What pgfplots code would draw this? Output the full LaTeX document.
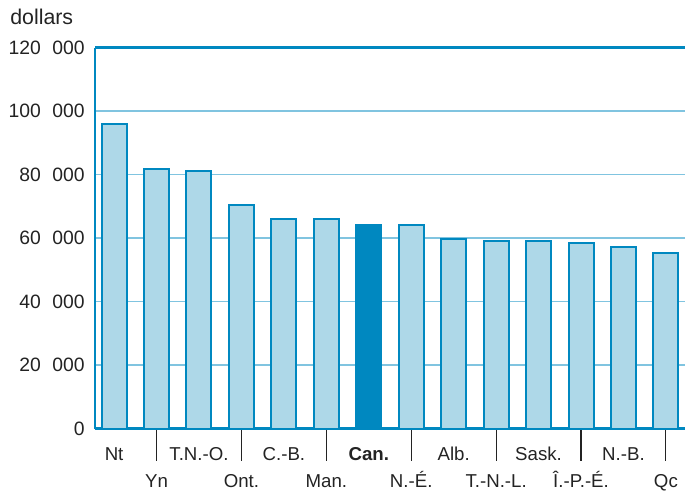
\documentclass[border=0pt]{standalone}
\usepackage{pgfplots}
\pgfplotsset{compat=1.18}
\usepackage{fontspec}
\setmainfont{Liberation Sans}
\definecolor{axisblue}{RGB}{0,136,192}
\definecolor{barfill}{RGB}{174,216,232}
\definecolor{gridblue}{RGB}{128,196,224}
\definecolor{txt}{RGB}{35,35,35}
\newcommand\sep{\hspace{0.6em}}
\begin{document}
\fontsize{14}{16}\selectfont
\begin{tikzpicture}[x=0.75pt,y=0.75pt]
\path[use as bounding box] (0,0) rectangle (685,490);
\begin{axis}[
  at={(95*0.75pt,61.5*0.75pt)}, anchor=south west,
  scale only axis, width=442.5pt, height=285.75pt,
  xmin=-0.45, xmax=13.45, ymin=0, ymax=120000,
  scaled y ticks=false,
  axis lines*=left, axis line style={-, draw=axisblue},
  x axis line style={line width=2.2pt},
  y axis line style={line width=1.6pt},
  ybar, bar width=18.75pt, bar shift=0pt,
  ymajorgrids, grid style={draw=gridblue, line width=1.3pt},
  ytick={0,20000,40000,60000,80000,100000},
  yticklabels={0,20\sep000,40\sep000,60\sep000,80\sep000,100\sep000},
  extra y ticks={120000},
  extra y tick labels={120\sep000},
  extra y tick style={grid style={draw=axisblue, line width=1.6pt}},
  major y tick style={draw=none},
  yticklabel style={anchor=east, inner sep=0pt, xshift=-7.5pt, text=txt, font=\fontsize{14.5}{16}\selectfont},
  xtick={0,2,...,12},
  xticklabels={Nt,T.N.-O.,C.-B.,\textbf{Can.},Alb.,Sask.,N.-B.},
  major x tick style={draw=none},
  xticklabel style={anchor=base, inner sep=0pt, yshift=-19.75pt, text=txt},
  extra x ticks={1,3,...,13},
  extra x tick labels={Yn,Ont.,Man.,N.-É.,T.-N.-L.,Î.-P.-É.,Qc},
  extra x tick style={tick align=outside, major tick length=24pt,
     major x tick style={draw=txt, line width=0.8pt},
     xticklabel style={yshift=-0.5pt}},
  clip=false,
]
\addplot[fill=barfill, draw=axisblue, line width=1.5pt] coordinates {
 (0,96000) (1,81600) (2,81100) (3,70300) (4,66000) (5,66000)
 (7,64100) (8,59600) (9,59000) (10,59000) (11,58400) (12,57100) (13,55400)};
\addplot[fill=axisblue, draw=axisblue, line width=1.5pt] coordinates {(6,64100)};
\node[anchor=west, inner sep=0pt, text=txt, font=\fontsize{16}{18}\selectfont] at (axis description cs:-0.144,1.08) {dollars};
\end{axis}
\end{tikzpicture}
\end{document}
